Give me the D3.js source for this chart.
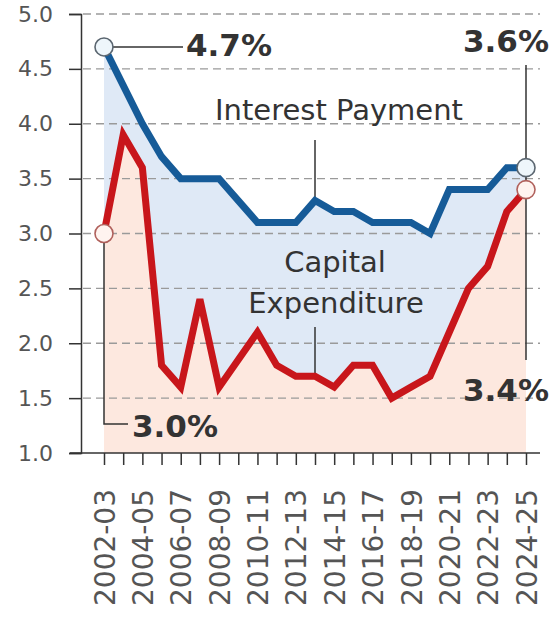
<!DOCTYPE html>
<html>
<head>
<meta charset="utf-8">
<script src="https://cdn.jsdelivr.net/npm/d3@7"></script>
<style>
	body { margin: 0; background: #fff; }
	svg { font-family: 'DejaVu Sans', sans-serif; }
</style>
</head>
<body>
<svg id="chart" width="560" height="624"></svg>
<script>
// fiscal years, one per point
const years = ['2002-03','2003-04','2004-05','2005-06','2006-07','2007-08','2008-09','2009-10',
	'2010-11','2011-12','2012-13','2013-14','2014-15','2015-16','2016-17','2017-18','2018-19',
	'2019-20','2020-21','2021-22','2022-23','2023-24','2024-25'];
// % of GDP
const interestPayment = [4.7, 4.35, 4.0, 3.7, 3.5, 3.5, 3.5, 3.3, 3.1, 3.1, 3.1, 3.3, 3.2, 3.2,
	3.1, 3.1, 3.1, 3.0, 3.4, 3.4, 3.4, 3.6, 3.6];
const capitalExpenditure = [3.0, 3.9, 3.6, 1.8, 1.6, 2.4, 1.6, 1.85, 2.1, 1.8, 1.7, 1.7, 1.6, 1.8,
	1.8, 1.5, 1.6, 1.7, 2.1, 2.5, 2.7, 3.2, 3.4];
const yTicks = [1.0, 1.5, 2.0, 2.5, 3.0, 3.5, 4.0, 4.5, 5.0];

let svg = d3.select('#chart');

let x = d3.scalePoint().domain(years).range([104, 526]),
	y = d3.scaleLinear().domain([1, 5]).range([453, 14]);

const left = 81, right = 540;
let rows = years.map((yr, i) => ({ yr: yr, ip: interestPayment[i], ce: capitalExpenditure[i] }));

// fills
svg.append('path')
	.datum(rows)
	.attr('fill', '#fde8df')
	.attr('d', d3.area().x(d => x(d.yr)).y0(y(1)).y1(d => y(d.ce)));

svg.append('path')
	.datum(rows)
	.attr('fill', '#dfe9f6')
	.attr('d', d3.area().x(d => x(d.yr)).y0(d => y(d.ce)).y1(d => y(d.ip)));

// dashed grid
svg.append('g')
	.selectAll('line')
	.data(yTicks.slice(1))
	.enter().append('line')
	.attr('x1', left + 2).attr('x2', right)
	.attr('y1', d => y(d)).attr('y2', d => y(d))
	.attr('stroke', '#9a9a9a')
	.attr('stroke-width', 1.3)
	.attr('stroke-dasharray', '8,5');

// y axis
let yAxis = svg.append('g')
	.attr('transform', 'translate(' + left + ',0)')
	.call(d3.axisLeft(y).tickValues(yTicks).tickFormat(d3.format('.1f')).tickSize(12).tickPadding(16));
yAxis.select('.domain').attr('stroke', '#333').attr('stroke-width', 1.5);
yAxis.selectAll('.tick line').attr('stroke', '#333').attr('stroke-width', 1.5);
yAxis.selectAll('.tick text')
	.attr('fill', '#555')
	.style('font-size', '22px')
	.style('font-family', 'DejaVu Sans');

// x axis
let xAxis = svg.append('g')
	.attr('transform', 'translate(0,' + y(1) + ')')
	.call(d3.axisBottom(x).tickSize(12).tickSizeOuter(0).tickFormat((d, i) => i % 2 == 0 ? d : ''));
xAxis.select('.domain').attr('d', 'M70,0H' + right).attr('stroke', '#333').attr('stroke-width', 1.5);
xAxis.selectAll('.tick line').attr('stroke', '#333').attr('stroke-width', 1.5);
xAxis.selectAll('.tick text')
	.attr('fill', '#555')
	.attr('transform', 'rotate(-90)')
	.attr('text-anchor', 'end')
	.attr('x', -36)
	.attr('y', 0)
	.attr('dy', '0.36em')
	.style('font-size', '28px')
	.style('font-family', 'DejaVu Sans');

// leader lines
let lead = svg.append('g').attr('stroke', '#333').attr('stroke-width', 1.5).attr('fill', 'none');
let last = years.length - 1;
lead.append('path').attr('d', 'M' + x(years[0]) + ',' + y(interestPayment[0]) + 'H183');
lead.append('path').attr('d', 'M' + x(years[0]) + ',' + y(capitalExpenditure[0]) + 'V424H128');
lead.append('path').attr('d', 'M' + x(years[last]) + ',65V360');
lead.append('path').attr('d', 'M' + x(years[11]) + ',140V' + (y(interestPayment[11]) - 2));
lead.append('path').attr('d', 'M' + x(years[11]) + ',327V' + (y(capitalExpenditure[11]) - 2));

// lines
svg.append('path')
	.datum(rows)
	.attr('fill', 'none')
	.attr('stroke', '#c8161b')
	.attr('stroke-width', 7)
	.attr('d', d3.line().x(d => x(d.yr)).y(d => y(d.ce)));

svg.append('path')
	.datum(rows)
	.attr('fill', 'none')
	.attr('stroke', '#165b98')
	.attr('stroke-width', 7)
	.attr('d', d3.line().x(d => x(d.yr)).y(d => y(d.ip)));

// end markers
[[0, interestPayment, '#5b6670', '#eef6fb'], [last, interestPayment, '#5b6670', '#eef6fb'],
 [0, capitalExpenditure, '#b0605b', '#fff3ef'], [last, capitalExpenditure, '#b0605b', '#fff3ef']]
	.forEach(m => {
		svg.append('circle')
			.attr('cx', x(years[m[0]]))
			.attr('cy', y(m[1][m[0]]))
			.attr('r', 9)
			.attr('fill', m[3])
			.attr('stroke', m[2])
			.attr('stroke-width', 1.6);
	});

// value labels
let vals = svg.append('g').attr('fill', '#333').style('font-weight', 'bold').style('font-size', '31px');
vals.append('text').attr('x', 186).attr('y', 56).text(interestPayment[0].toFixed(1) + '%');
vals.append('text').attr('x', 132).attr('y', 437).text(capitalExpenditure[0].toFixed(1) + '%');
vals.append('text').attr('x', 506).attr('y', 52).attr('text-anchor', 'middle').text(interestPayment[last].toFixed(1) + '%');
vals.append('text').attr('x', 506).attr('y', 401).attr('text-anchor', 'middle').text(capitalExpenditure[last].toFixed(1) + '%');

// series names
let names = svg.append('g').attr('fill', '#333').style('font-size', '29px').attr('text-anchor', 'middle');
names.append('text').attr('x', 339).attr('y', 120).text('Interest Payment');
names.append('text').attr('x', 335).attr('y', 272).text('Capital');
names.append('text').attr('x', 336).attr('y', 313).text('Expenditure');
</script>
</body>
</html>
